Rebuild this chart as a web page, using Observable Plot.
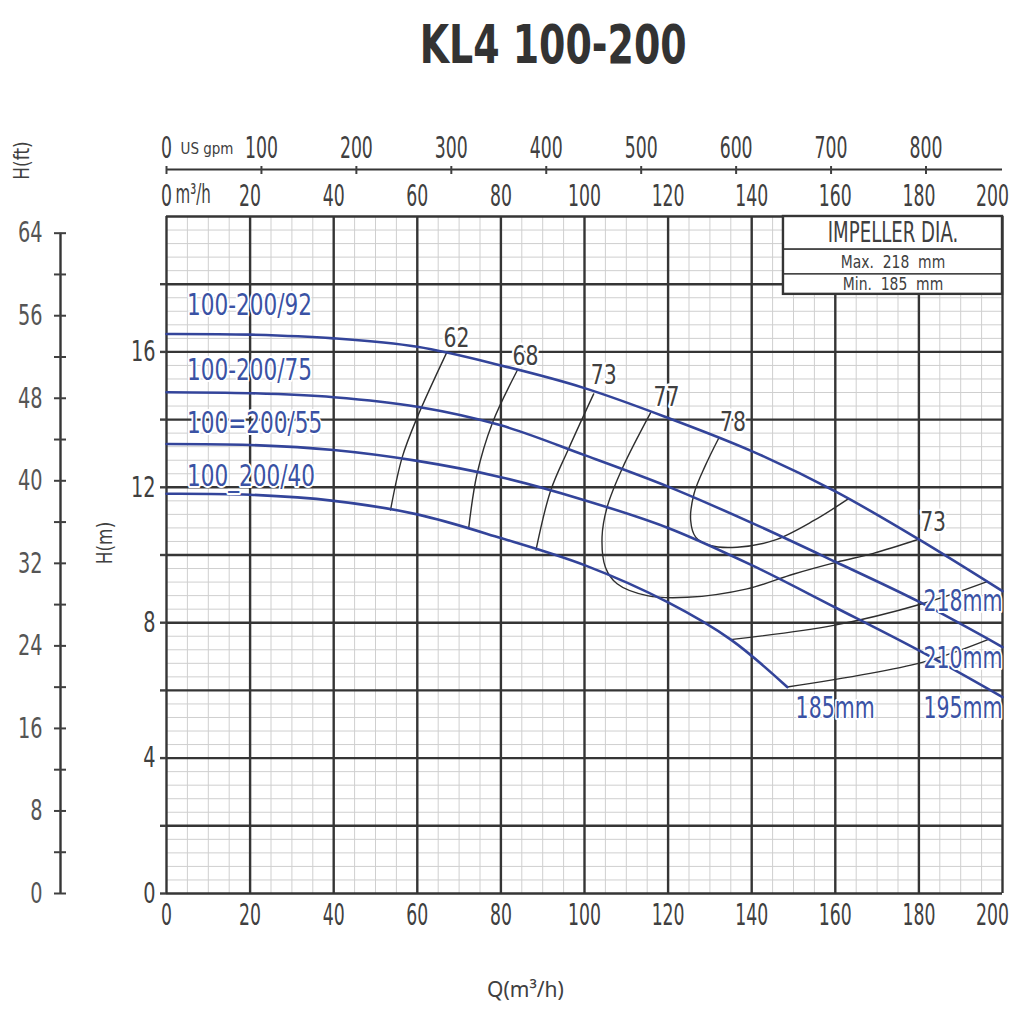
<!DOCTYPE html>
<html><head><meta charset="utf-8">
<script src="https://cdn.jsdelivr.net/npm/d3@7"></script>
<script src="https://cdn.jsdelivr.net/npm/@observablehq/plot@0.6"></script>
<style>
body{margin:0;background:#fff;}
#title{height:95px;width:1014px;box-sizing:border-box;padding-left:92px;text-align:center;font-weight:bold;font-size:54px;font-family:"DejaVu Sans Condensed","DejaVu Sans",sans-serif;line-height:90px;color:#333;}
#title span{display:inline-block;transform:scaleX(0.78);}
</style></head><body>
<div id="title"><span>KL4 100-200</span></div>
<div id="chart"></div>
<script>
// ---------- data ----------
const models = ["100-200/92", "100-200/75", "100=200/55", "100_200/40"];
const diameters = ["218mm", "210mm", "195mm", "185mm"];

const flowQ = [0, 20, 40, 60, 80, 100, 120, 140, 160, 180, 200];
const head218 = [16.53, 16.51, 16.4, 16.15, 15.6, 14.93, 14.05, 13.07, 11.88, 10.46, 8.93];
const head210 = [14.81, 14.78, 14.66, 14.38, 13.83, 12.95, 12.02, 10.95, 9.8, 8.62, 7.28];
const head195 = [13.28, 13.25, 13.1, 12.78, 12.3, 11.62, 10.8, 9.7, 8.45, 7.18, 5.8];
const flow185 = [0, 20, 40, 60, 80, 100, 120, 135, 148.5];
const head185 = [11.81, 11.78, 11.6, 11.2, 10.5, 9.7, 8.6, 7.5, 6.1];

// iso-efficiency lines (Q m3/h, H m)
const eff62Q = [67, 60, 56.4, 53.6];
const eff62H = [15.97, 14.07, 12.89, 11.33];
const eff68Q = [83.9, 77.9, 74.3, 72.3];
const eff68H = [15.45, 13.88, 12.4, 10.8];
const eff73Q = [102.2, 96.2, 91.9, 88.4];
const eff73H = [14.76, 13.14, 11.9, 10.15];
const eff77Q = [115.8, 109.0, 105.4, 104.2, 105.0, 107.8, 115.0, 124.6, 138.9, 150.1, 160.4, 169.1, 179.6];
const eff77H = [14.2, 12.55, 11.41, 10.53, 9.64, 9.15, 8.8, 8.75, 9.0, 9.44, 9.79, 10.05, 10.45];
const eff78Q = [132.1, 128.9, 126.2, 125.4, 126.6, 130.1, 136.5, 145.3, 154.9, 163.0];
const eff78H = [13.45, 12.64, 11.81, 11.02, 10.53, 10.28, 10.23, 10.43, 11.02, 11.65];
const effBQ = [134.9, 159.6, 180.8, 196.5];
const effBH = [7.5, 7.92, 8.56, 9.22];
const effCQ = [148.5, 180.8, 196.5];
const effCH = [6.1, 6.83, 7.5];

// efficiency labels
const effLabels = ["62", "68", "73", "77", "78", "73"];
const effLabelQ = [69.4, 85.9, 104.6, 119.6, 135.5, 183.4];
const effLabelH = [16.4, 15.87, 15.32, 14.66, 13.92, 10.95];

// model labels (left) and diameter labels (right)
const modelLabelQ = [4.9, 4.9, 4.9, 4.9];
const modelLabelH = [17.37, 15.45, 13.88, 12.32];
const diaLabelQ = [200, 200, 200, 150.5];
const diaLabelH = [8.64, 6.94, 5.48, 5.48];

// impeller table
const impellerText = ["IMPELLER DIA.", "Max.  218  mm", "Min.  185  mm"];
const impellerQ = [147.6, 200];
const impellerRowTop = [20, 19.02, 18.29];
const impellerRowBottom = [19.02, 18.29, 17.7];

// axes
const qTicks = d3.range(0, 201, 20);
const hTicks = d3.range(0, 19, 2);
const gpmTicks = [0, 100, 200, 300, 400, 500, 600, 700, 800];
const ftLabels = [0, 8, 16, 24, 32, 40, 48, 56, 64];
const ftTicks = d3.range(0, 65, 4);
const GPM = 0.2271247;   // m3/h per US gpm
const FT = 0.3048;       // m per ft
const Q_MAX = 200, H_MAX = 20;

// ---------- tables ----------
const curves = [
  {name: diameters[0], q: flowQ, h: head218},
  {name: diameters[1], q: flowQ, h: head210},
  {name: diameters[2], q: flowQ, h: head195},
  {name: diameters[3], q: flow185, h: head185}
];
const curveRows = curves.flatMap(c => c.q.map((q, i) => ({id: c.name, q, h: c.h[i]})));
const effs = [
  [eff62Q, eff62H], [eff68Q, eff68H], [eff73Q, eff73H], [eff77Q, eff77H],
  [eff78Q, eff78H], [effBQ, effBH], [effCQ, effCH]
];
const effRows = effs.flatMap(([qs, hs], k) => qs.map((q, i) => ({id: k, q, h: hs[i]})));
const effLabelRows = effLabels.map((t, i) => ({t, q: effLabelQ[i], h: effLabelH[i]}));
const modelRows = models.map((t, i) => ({t, q: modelLabelQ[i], h: modelLabelH[i]}));
const diaRows = diameters.map((t, i) => ({t, q: diaLabelQ[i], h: diaLabelH[i]}));
const impRows = impellerText.map((t, i) => ({t, top: impellerRowTop[i], bottom: impellerRowBottom[i]}));
const qTicksInner = qTicks.slice(0, -1);
const qTickLast = qTicks.slice(-1);

const NARROW = '"DejaVu Sans Condensed","DejaVu Sans",sans-serif';
const BLUE = "#33449a";
const LBLUE = "#3a52a4";
const DARK = "#353535";
const TXT = "#404040";

// horizontal squeeze per text group (the chart's lettering is extra-condensed)
const squeezeBy = {
  "eff-label": 0.84, "model-label": 0.8, "dia-label": 0.76, "imp-head": 0.72, "imp-row": 0.86,
  "unit-m3h": 0.62, "unit-gpm": 1.0, "h-title": 0.9, "x-title": 1.0
};

const chart = Plot.plot({
  width: 1014, height: 918,
  marginTop: 121, marginLeft: 166, marginRight: 12, marginBottom: 120,
  x: {domain: [0, Q_MAX]},
  y: {domain: [0, H_MAX]},
  style: {fontFamily: NARROW, fontSize: "26px", color: TXT, background: "white", overflow: "visible"},
  marks: [
    // minor grid
    Plot.ruleX(d3.range(0, Q_MAX + 0.1, 5), {stroke: "#cfcfcf", strokeWidth: 1}),
    Plot.ruleY(d3.range(0, H_MAX + 0.01, 0.4), {stroke: "#cfcfcf", strokeWidth: 1}),
    // major grid
    Plot.ruleX(qTicks, {stroke: DARK, strokeWidth: 2.4}),
    Plot.ruleY(d3.range(0, H_MAX + 0.1, 2), {stroke: DARK, strokeWidth: 2.4}),
    // iso-efficiency lines
    Plot.line(effRows, {x: "q", y: "h", z: "id", stroke: "#2e2e2e", strokeWidth: 1.4, curve: "catmull-rom"}),
    // head curves
    Plot.line(curveRows, {x: "q", y: "h", z: "id", stroke: BLUE, strokeWidth: 2.6, curve: "catmull-rom"}),
    // labels
    Plot.text(effLabelRows, {x: "q", y: "h", text: "t", fontSize: 27, fill: TXT, stroke: "white", strokeWidth: 5, ariaDescription: "eff-label"}),
    Plot.text(modelRows, {x: "q", y: "h", text: "t", textAnchor: "start", fontSize: 30, fill: LBLUE, stroke: "white", strokeWidth: 4, ariaDescription: "model-label"}),
    Plot.text(diaRows.slice(0, 3), {x: "q", y: "h", text: "t", textAnchor: "end", fontSize: 30, fill: LBLUE, stroke: "white", strokeWidth: 4, ariaDescription: "dia-label"}),
    Plot.text(diaRows.slice(3), {x: "q", y: "h", text: "t", textAnchor: "start", fontSize: 30, fill: LBLUE, stroke: "white", strokeWidth: 4, ariaDescription: "dia-label"}),
    // impeller table
    Plot.rect(impRows, {x1: impellerQ[0], x2: impellerQ[1], y1: "bottom", y2: "top", fill: "white", stroke: "#444", strokeWidth: 1.6}),
    Plot.rect([0], {x1: impellerQ[0], x2: impellerQ[1], y1: impellerRowBottom[2], y2: impellerRowTop[0], fill: "none", stroke: DARK, strokeWidth: 2.4}),
    Plot.text(impRows.slice(0, 1), {x: (impellerQ[0] + impellerQ[1]) / 2, y: d => (d.top + d.bottom) / 2, text: "t",
      fontSize: 28, fill: TXT, ariaDescription: "imp-head"}),
    Plot.text(impRows.slice(1), {x: (impellerQ[0] + impellerQ[1]) / 2, y: d => (d.top + d.bottom) / 2, text: "t",
      fontSize: 18, fill: TXT, ariaDescription: "imp-row"}),
    // bottom Q axis
    Plot.axisX(qTicksInner, {anchor: "bottom", tickSize: 0, tickPadding: 10, label: null, fontSize: 30}),
    Plot.axisX(qTickLast, {anchor: "bottom", tickSize: 0, tickPadding: 10, label: null, fontSize: 30, dx: -10}),
    // top m3/h axis
    Plot.axisX(qTicksInner, {anchor: "top", tickSize: 0, tickPadding: 11, label: null, fontSize: 30}),
    Plot.axisX(qTickLast, {anchor: "top", tickSize: 0, tickPadding: 11, label: null, fontSize: 30, dx: -10}),
    Plot.text(["m³/h"], {frameAnchor: "top-left", dx: 9, dy: -22, textAnchor: "start", lineAnchor: "middle", fontSize: 27, ariaDescription: "unit-m3h"}),
    // top US gpm axis
    Plot.ruleY([H_MAX], {dy: -47, stroke: DARK, strokeWidth: 2}),
    Plot.axisX(gpmTicks.map(g => g * GPM), {anchor: "top", tickSize: 8, dy: -43, tickPadding: 8, strokeWidth: 2,
      tickFormat: d => String(Math.round(d / GPM)), label: null, fontSize: 30}),
    Plot.text(["US gpm"], {frameAnchor: "top-left", dx: 14, dy: -67, textAnchor: "start", lineAnchor: "middle", fontSize: 15, ariaDescription: "unit-gpm"}),
    // left H(m) axis
    Plot.axisY(hTicks, {anchor: "left", tickSize: 6, tickPadding: 5, strokeWidth: 2.4,
      tickFormat: d => d % 4 === 0 ? String(d) : "", label: null, fontSize: 29}),
    Plot.text(["H(m)"], {frameAnchor: "left", dx: -61, dy: -12, rotate: -90, textAnchor: "middle", lineAnchor: "middle", fontSize: 21, ariaDescription: "h-title"}),
    // far left H(ft) axis
    Plot.ruleX([0], {y1: 0, y2: ftLabels[ftLabels.length - 1] * FT, dx: -106, stroke: DARK, strokeWidth: 2.4}),
    Plot.axisY(ftTicks.map(f => f * FT), {anchor: "left", tickSize: 12, dx: -100, strokeWidth: 2,
      tickFormat: () => "", label: null}),
    Plot.axisY(ftLabels.map(f => f * FT), {anchor: "left", tickSize: 0, tickPadding: 0, dx: -124,
      tickFormat: d => String(Math.round(d / FT)), label: null, fontSize: 29, fill: "#555"}),
    Plot.text(["H(ft)"], {frameAnchor: "top-left", dx: -144, dy: -56, rotate: -90, textAnchor: "middle", lineAnchor: "middle", fontSize: 21, ariaDescription: "h-title"}),
    // x title
    Plot.text(["Q(m³/h)"], {frameAnchor: "bottom", dx: -59, dy: 97, textAnchor: "middle", lineAnchor: "middle", fontSize: 21, fontFamily: "'Noto Sans', sans-serif", ariaDescription: "x-title"})
  ]
});

// apply condensed lettering
chart.querySelectorAll("text").forEach(t => {
  const gd = t.closest("[aria-description]");
  const ga = t.closest("[aria-label]");
  const desc = gd ? gd.getAttribute("aria-description") : "";
  const label = ga ? ga.getAttribute("aria-label") : "";
  let s = squeezeBy[desc];
  if (s === undefined) s = /y-axis/.test(label) ? 0.74 : /x-axis/.test(label) ? 0.64 : 1;
  if (s === 1) return;
  const tr = t.getAttribute("transform") || "";
  const x = +t.getAttribute("x") || 0, y = +t.getAttribute("y") || 0;
  t.setAttribute("transform", `${tr} translate(${x},${y}) scale(${s},1) translate(${-x},${-y})`);
});
document.getElementById("chart").appendChild(chart);
</script>
</body></html>
